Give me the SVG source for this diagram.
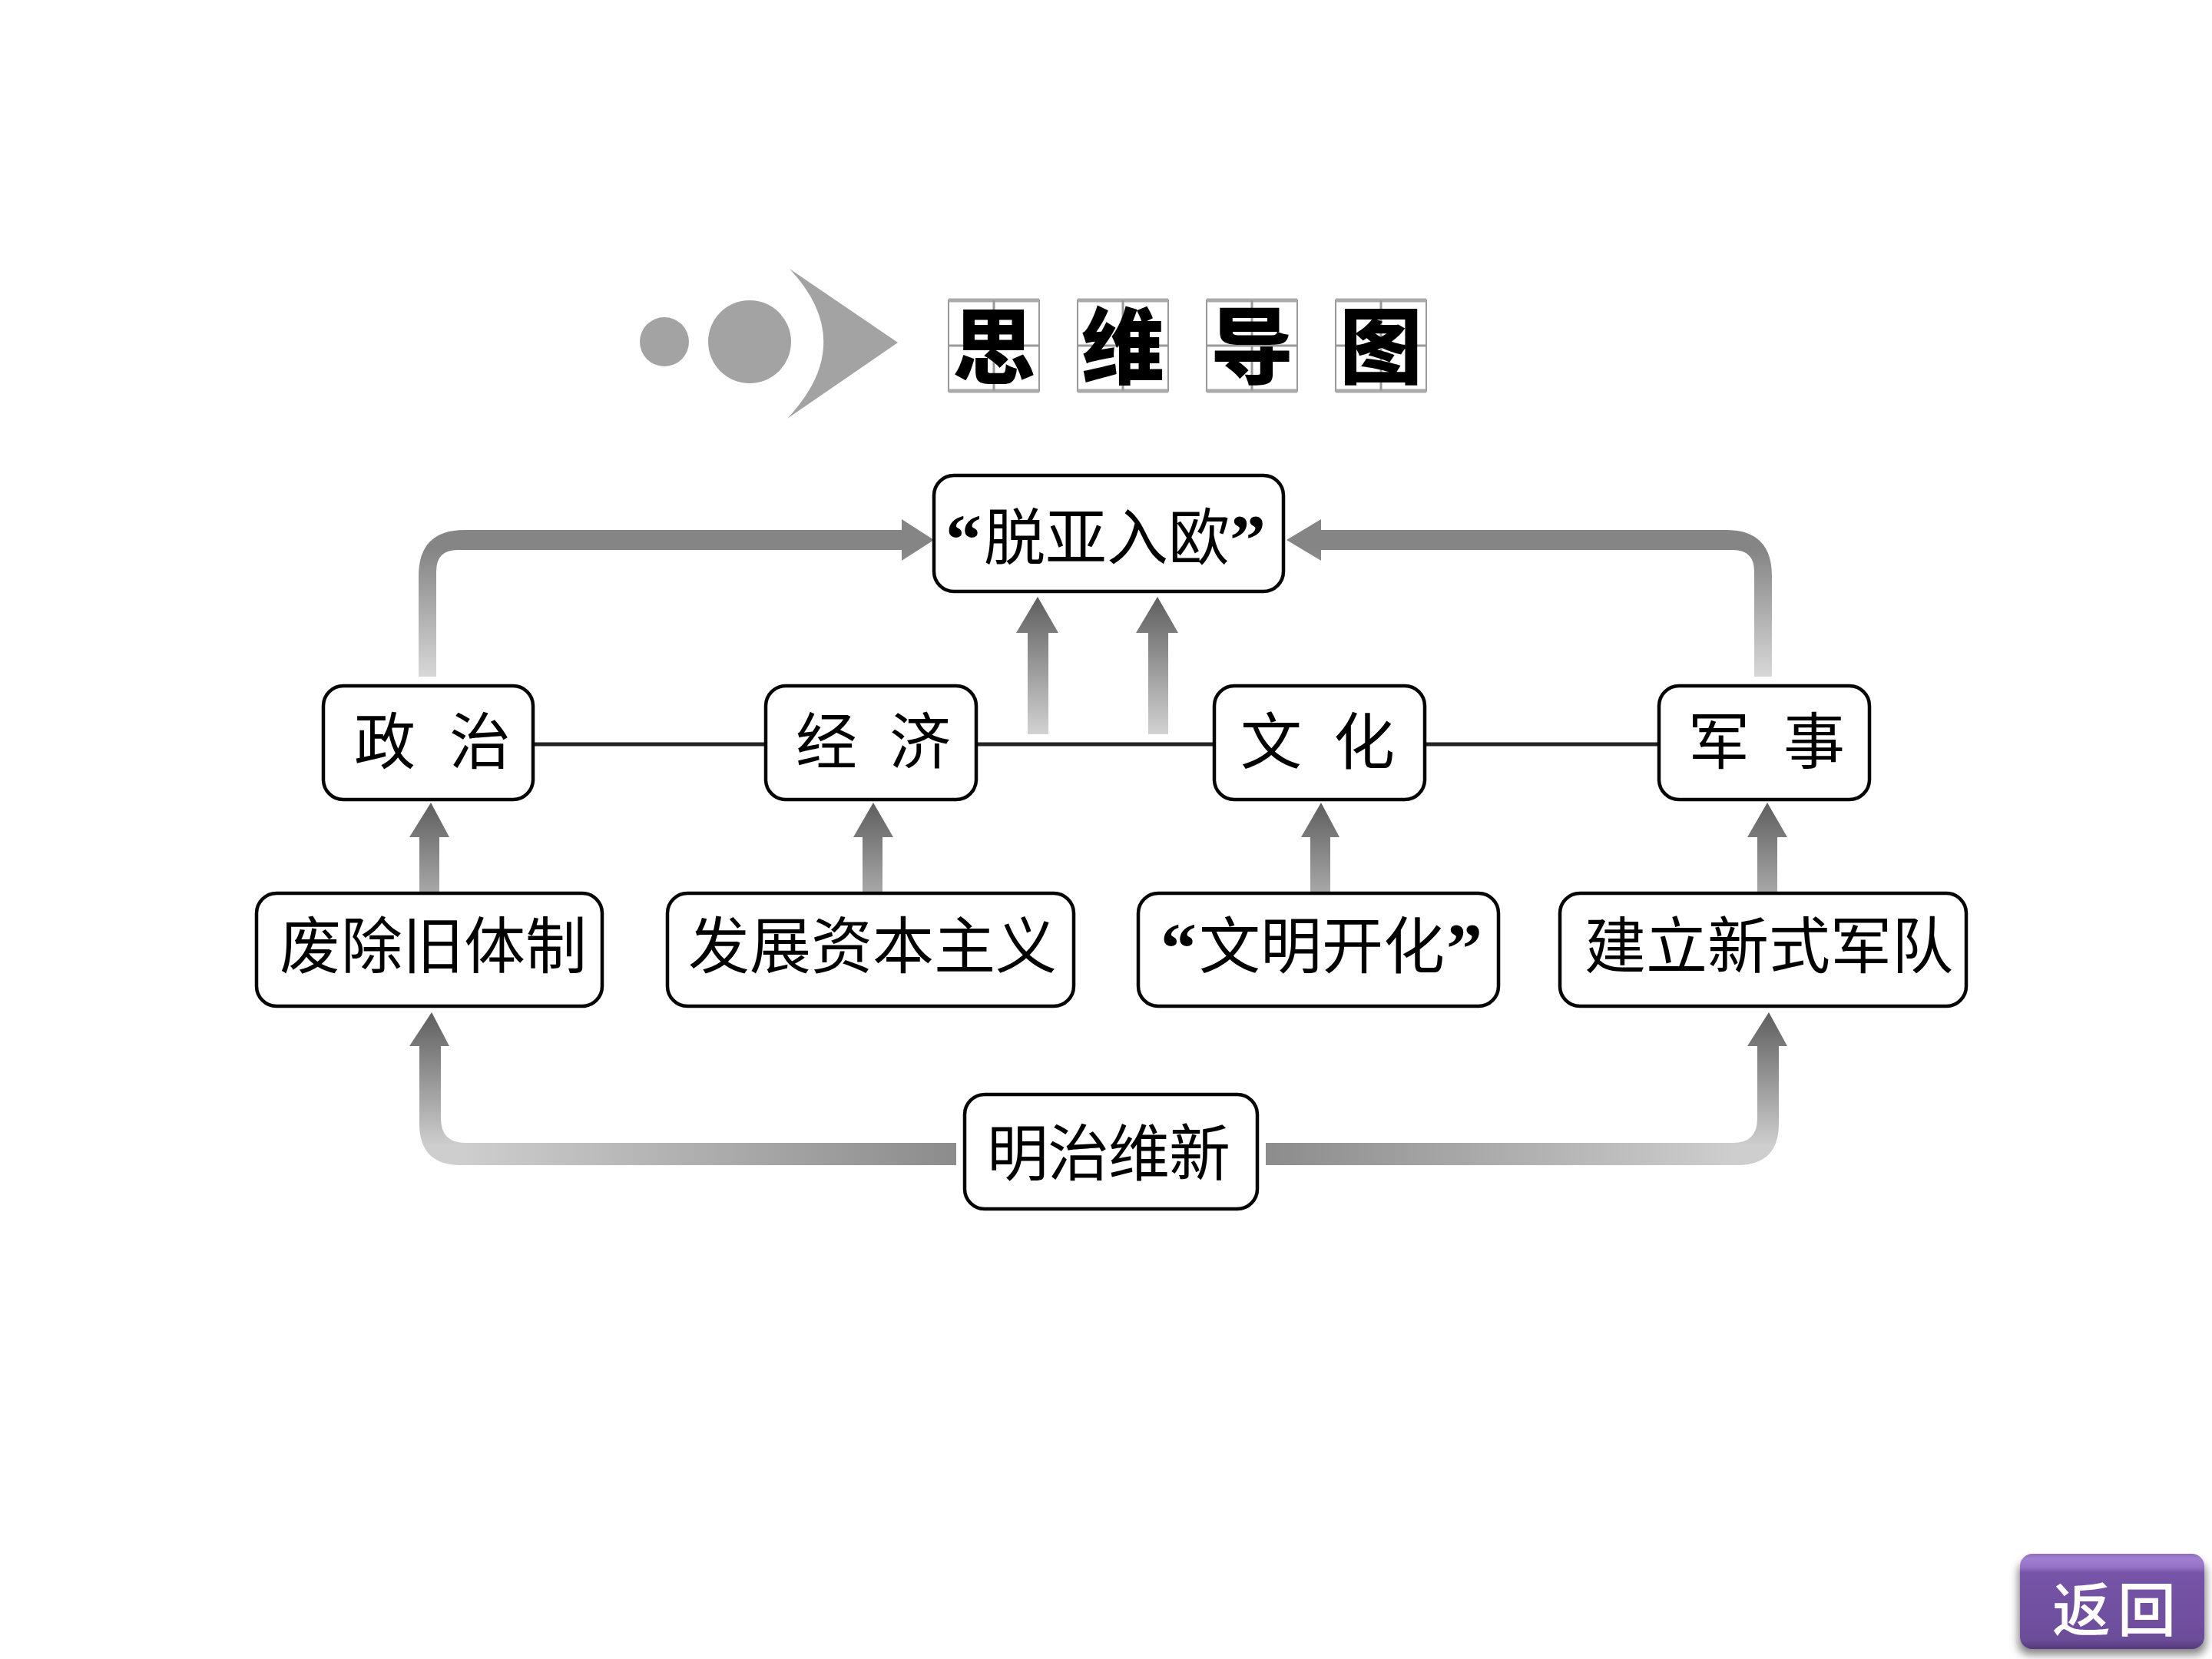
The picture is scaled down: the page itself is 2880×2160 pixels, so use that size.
<svg xmlns="http://www.w3.org/2000/svg" width="2880" height="2160" viewBox="0 0 2880 2160">
<style>
.box{fill:#fff;stroke:#050505;stroke-width:4.5}
.t{font-family:"Liberation Serif","Noto Sans CJK SC",serif;font-size:80px;fill:#000}
.q{font-family:"Liberation Serif",serif;font-size:94px;font-weight:700;fill:#000}
.line{stroke:#222;stroke-width:5;fill:none}
.cell{fill:#fff;stroke:#999;stroke-width:2}
.edge{fill:none;stroke:#aaa;stroke-width:5}
.cross{stroke:#999;stroke-width:3}
.brush{font-family:"Noto Sans CJK SC",sans-serif;font-weight:900;font-size:108px;fill:#000;text-anchor:middle}
.dot{fill:#a3a3a3}
</style>
<defs>
<linearGradient id="up" x1="0" y1="0" x2="0" y2="1"><stop offset="0" stop-color="#5e5e5e"/><stop offset="1" stop-color="#a8a8a8"/></linearGradient>
<linearGradient id="upTall" x1="0" y1="0" x2="0" y2="1"><stop offset="0" stop-color="#5e5e5e"/><stop offset="1" stop-color="#d2d2d2"/></linearGradient>
<linearGradient id="topLoop" gradientUnits="userSpaceOnUse" x1="0" y1="716" x2="0" y2="881"><stop offset="0" stop-color="#858585"/><stop offset="1" stop-color="#d8d8d8"/></linearGradient>
<linearGradient id="botV" gradientUnits="userSpaceOnUse" x1="0" y1="1318" x2="0" y2="1492"><stop offset="0" stop-color="#5e5e5e"/><stop offset="1" stop-color="#cecece"/></linearGradient>
<linearGradient id="botL" gradientUnits="userSpaceOnUse" x1="600" y1="0" x2="1245" y2="0"><stop offset="0" stop-color="#cecece"/><stop offset="1" stop-color="#8c8c8c"/></linearGradient>
<linearGradient id="botR" gradientUnits="userSpaceOnUse" x1="2260" y1="0" x2="1648" y2="0"><stop offset="0" stop-color="#cecece"/><stop offset="1" stop-color="#8c8c8c"/></linearGradient>
<linearGradient id="btn" x1="0" y1="0" x2="0" y2="1"><stop offset="0" stop-color="#8d6cbd"/><stop offset="0.05" stop-color="#a07fd0"/><stop offset="0.14" stop-color="#9572c6"/><stop offset="0.2" stop-color="#7654a8"/><stop offset="0.9" stop-color="#6c4d9a"/><stop offset="1" stop-color="#54397c"/></linearGradient>
<filter id="soft" x="-10%" y="-10%" width="120%" height="125%"><feGaussianBlur stdDeviation="6"/></filter>
</defs>

<g id="title-mark">
<ellipse class="dot" cx="865" cy="445" rx="32" ry="32"/>
<ellipse class="dot" cx="976" cy="445" rx="54" ry="54"/>
<path class="dot" d="M1028 350 L1169 446 L1025 545 Q1118 446 1028 350 Z"/>
</g>
<g id="title">
<g id="title-1"><rect class="cell" x="1235" y="391" width="118" height="118"/><path class="edge" d="M1235 391H1353M1235 509H1353"/><path class="cross" d="M1294 391V509M1235 450H1353"/><text class="brush" x="1294" y="491">思</text></g>
<g id="title-2"><rect class="cell" x="1403" y="391" width="118" height="118"/><path class="edge" d="M1403 391H1521M1403 509H1521"/><path class="cross" d="M1462 391V509M1403 450H1521"/><text class="brush" x="1462" y="491">维</text></g>
<g id="title-3"><rect class="cell" x="1571" y="391" width="118" height="118"/><path class="edge" d="M1571 391H1689M1571 509H1689"/><path class="cross" d="M1630 391V509M1571 450H1689"/><text class="brush" x="1630" y="491">导</text></g>
<g id="title-4"><rect class="cell" x="1739" y="391" width="118" height="118"/><path class="edge" d="M1739 391H1857M1739 509H1857"/><path class="cross" d="M1798 391V509M1739 450H1857"/><text class="brush" x="1798" y="491">图</text></g>
</g>

<g id="connectors">
<path class="line" d="M694 969H997M1271 969H1581M1855 969H2160"/>
<path fill="url(#topLoop)" d="M545 881V750Q545 690 605 690H1174V676L1216 703L1174 730V716H596Q568 716 568 744V881Z"/>
<path fill="url(#topLoop)" d="M2307 881V750Q2307 690 2247 690H1720V676L1675 703L1720 730V716H2256Q2284 716 2284 744V881Z"/>
<path fill="url(#upTall)" d="M1351 777L1378 824H1365V956H1338V824H1323Z"/>
<path fill="url(#upTall)" d="M1507 777L1534 824H1521V956H1495V824H1479Z"/>
<path fill="url(#up)" d="M561 1045L585 1090H572V1162H546V1090H533Z"/>
<path fill="url(#up)" d="M1137 1045L1163 1090H1149V1162H1123V1090H1111Z"/>
<path fill="url(#up)" d="M1720 1045L1744 1090H1732V1162H1706V1090H1694Z"/>
<path fill="url(#up)" d="M2301 1045L2327 1090H2314V1162H2288V1090H2275Z"/>
<path fill="url(#botV)" d="M562 1318L585 1362H574V1456Q574 1488 606 1488V1517H600Q546 1517 546 1463V1362H533Z"/>
<path fill="url(#botL)" d="M600 1488H1245V1517H600Z"/>
<path fill="url(#botV)" d="M2303 1318L2327 1362H2316V1463Q2316 1517 2262 1517H2256V1488Q2288 1488 2288 1456V1362H2275Z"/>
<path fill="url(#botR)" d="M1648 1488H2260V1517H1648Z"/>
</g>

<g id="node-top"><rect class="box" x="1216" y="619" width="455" height="151" rx="26"/><text class="q" x="1231" y="734">“</text><text class="t" x="1281 1361 1441 1521" y="728">脱亚入欧</text><text class="q" x="1601" y="734">”</text></g>
<g id="node-politics"><rect class="box" x="421" y="893" width="273" height="148" rx="26"/><text class="t" x="461 585" y="994">政治</text></g>
<g id="node-economy"><rect class="box" x="997" y="893" width="274" height="148" rx="26"/><text class="t" x="1036 1158" y="994">经济</text></g>
<g id="node-culture"><rect class="box" x="1581" y="893" width="274" height="148" rx="26"/><text class="t" x="1615 1736" y="994">文化</text></g>
<g id="node-military"><rect class="box" x="2160" y="893" width="274" height="148" rx="26"/><text class="t" x="2198 2322" y="994">军事</text></g>
<g id="node-abolish"><rect class="box" x="334" y="1163" width="450" height="147" rx="26"/><text class="t" x="364 444 524 604 684" y="1260">废除旧体制</text></g>
<g id="node-capitalism"><rect class="box" x="869" y="1163" width="529" height="147" rx="26"/><text class="t" x="896 976 1056 1136 1216 1296" y="1260">发展资本主义</text></g>
<g id="node-civilize"><rect class="box" x="1482" y="1163" width="469" height="147" rx="26"/><text class="q" x="1511" y="1266">“</text><text class="t" x="1561 1641 1721 1801" y="1260">文明开化</text><text class="q" x="1883" y="1266">”</text></g>
<g id="node-army"><rect class="box" x="2031" y="1163" width="529" height="147" rx="26"/><text class="t" x="2063 2143 2223 2303 2383 2463" y="1260">建立新式军队</text></g>
<g id="node-meiji"><rect class="box" x="1256" y="1425" width="381" height="149" rx="26"/><text class="t" x="1285 1364 1443 1522" y="1530">明治维新</text></g>

<g id="back-button">
<rect x="2628" y="2034" width="244" height="120" rx="14" fill="#555" opacity="0.75" filter="url(#soft)"/>
<rect x="2630" y="2023" width="240" height="124" rx="16" fill="url(#btn)"/>
<text x="2672 2757" y="2124" font-family="Noto Sans CJK SC, sans-serif" font-weight="500" font-size="76" fill="#fff">返回</text>
</g>
</svg>
